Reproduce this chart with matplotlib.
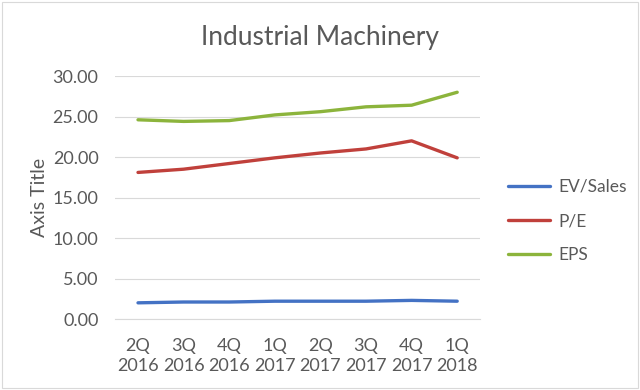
import matplotlib
matplotlib.use("Agg")
import matplotlib.pyplot as plt
from matplotlib.patches import Rectangle

plt.rcParams["font.family"] = ["Lato", "DejaVu Sans"]

quarters = ["2Q\n2016", "3Q\n2016", "4Q\n2016", "1Q\n2017",
            "2Q\n2017", "3Q\n2017", "4Q\n2017", "1Q\n2018"]
ev_sales = [2.0, 2.1, 2.1, 2.2, 2.2, 2.2, 2.3, 2.2]
pe = [18.1, 18.5, 19.2, 19.9, 20.5, 21.0, 22.0, 19.9]
eps = [24.6, 24.4, 24.5, 25.2, 25.6, 26.2, 26.4, 28.0]

text_color = "#595959"
grid_color = "#d9d9d9"

fig = plt.figure(figsize=(6.4, 3.9), dpi=100)
ax = fig.add_axes([0.18, 0.182, 0.57, 0.623])

x = range(len(quarters))
ax.plot(x, ev_sales, color="#4472C4", linewidth=2.4, label="EV/Sales",
        solid_capstyle="round")
ax.plot(x, pe, color="#C0403B", linewidth=2.4, label="P/E",
        solid_capstyle="round")
ax.plot(x, eps, color="#8CB43C", linewidth=2.4, label="EPS",
        solid_capstyle="round")

ax.set_xlim(-0.5, len(quarters) - 0.5)
ax.set_ylim(0, 30)
ax.set_yticks([0, 5, 10, 15, 20, 25, 30])
ax.set_yticklabels([f"{v:.2f}" for v in [0, 5, 10, 15, 20, 25, 30]])
ax.set_xticks(list(x))
ax.set_xticklabels(quarters, linespacing=1.25)
ax.tick_params(axis="both", length=0, labelsize=13, colors=text_color)
ax.tick_params(axis="x", pad=14)
ax.tick_params(axis="y", pad=12)

ax.grid(True, axis="y", color=grid_color, linewidth=0.8)
ax.set_axisbelow(True)
for side in ["top", "right", "left"]:
    ax.spines[side].set_visible(False)
ax.spines["bottom"].set_color(grid_color)

ax.set_ylabel("Axis Title", fontsize=14, color=text_color, labelpad=3)
fig.text(0.5, 0.905, "Industrial Machinery", ha="center", va="center",
         fontsize=19, color=text_color)

ax.legend(loc="center left", bbox_to_anchor=(0.77, 0.433),
          bbox_transform=fig.transFigure, frameon=False,
          fontsize=12.5, labelcolor=text_color, handlelength=2.4,
          handletextpad=0.5, labelspacing=1.05)

fig.patches.append(Rectangle((0.003, 0.005), 0.994, 0.99, transform=fig.transFigure,
                             fill=False, edgecolor=grid_color, linewidth=0.8))

fig.savefig("out.png", dpi=100)
